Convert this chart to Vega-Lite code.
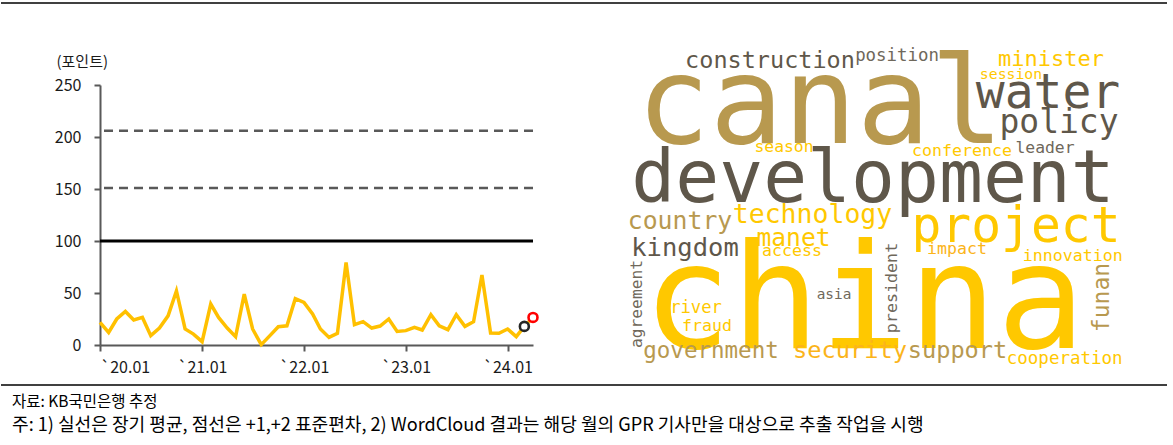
{
  "$schema": "https://vega.github.io/schema/vega-lite/v6.json",
  "background": "white",
  "padding": {"top": 2, "left": 0, "right": 0, "bottom": 0},
  "bounds": "flush",
  "spacing": 0,
  "config": {
    "view": {"stroke": null},
    "font": "Noto Sans CJK KR",
    "axis": {
      "domainColor": "#595959", "domainWidth": 2,
      "tickColor": "#595959", "tickWidth": 2, "tickSize": 6,
      "labelFont": "Noto Sans CJK KR", "labelFontSize": 16, "labelColor": "#1a1a1a",
      "grid": false
    },
    "axisY": {
      "labelPadding": 13,
      "titleAngle": 0, "titleAlign": "left", "titleBaseline": "middle",
      "titleX": -44, "titleY": -24,
      "titleFont": "Noto Sans CJK KR", "titleFontSize": 15, "titleFontWeight": "normal", "titleColor": "#1a1a1a"
    },
    "axisX": {"labelPadding": 8}
  },
  "vconcat": [
    {
      "width": 1166, "height": 81.3,
      "data": {"values": [{"edge": "top"}]},
      "mark": {"type": "rule", "color": "black", "strokeWidth": 1.5},
      "encoding": {"y": {"datum": 1, "type": "quantitative", "scale": {"domain": [0, 1]}, "axis": null}}
    },
    {
      "bounds": "flush",
      "spacing": 68,
      "hconcat": [
        {
          "width": 31, "height": 260,
          "data": {"values": [{"edge": "spacer"}]},
          "mark": {"type": "text", "text": " "},
          "encoding": {}
        },
        {
          "width": 433, "height": 260,
          "layer": [
            {
              "data": {"values": [{"value": 206, "kind": "+2 표준편차"}, {"value": 151, "kind": "+1 표준편차"}]},
              "mark": {"type": "rule", "color": "#595959", "strokeWidth": 2.5, "strokeDash": [9, 6]},
              "encoding": {"y": {"field": "value", "type": "quantitative", "scale": {"domain": [0, 250], "nice": false}, "axis": {"title": "(포인트)", "values": [0, 50, 100, 150, 200, 250]}}}
            },
            {
              "data": {"values": [{"value": 100, "kind": "장기 평균"}]},
              "mark": {"type": "rule", "color": "black", "strokeWidth": 3},
              "encoding": {"y": {"field": "value", "type": "quantitative", "scale": {"domain": [0, 250], "nice": false}, "axis": {"title": "(포인트)", "values": [0, 50, 100, 150, 200, 250]}}}
            },
            {
              "data": {"name": "gpr"},
              "layer": [
                {
                  "mark": {"type": "line", "color": "#FFC000", "strokeWidth": 3.5},
                  "encoding": {
                    "x": {"field": "date", "type": "temporal", "scale": {"type": "utc", "domain": [{"year": 2020, "month": 1, "date": 1, "utc": true}, {"year": 2024, "month": 4, "date": 1, "utc": true}]}, "axis": {"title": null, "values": [{"year": 2020, "month": 1, "date": 1, "utc": true}, {"year": 2021, "month": 1, "date": 1, "utc": true}, {"year": 2022, "month": 1, "date": 1, "utc": true}, {"year": 2023, "month": 1, "date": 1, "utc": true}, {"year": 2024, "month": 1, "date": 1, "utc": true}], "labelExpr": "'`' + utcFormat(datum.value, '%y.%m')"}},
                    "y": {"field": "value", "type": "quantitative", "scale": {"domain": [0, 250], "nice": false}, "axis": {"title": "(포인트)", "values": [0, 50, 100, 150, 200, 250]}}
                  }
                },
                {
                  "transform": [{"filter": "utcyear(datum.date) == 2024 && utcmonth(datum.date) == 2"}],
                  "mark": {"type": "circle", "fill": "white", "fillOpacity": 1, "stroke": "#262626", "strokeWidth": 2.6, "size": 80, "opacity": 1},
                  "encoding": {
                    "x": {"field": "date", "type": "temporal"},
                    "y": {"field": "value", "type": "quantitative"}
                  }
                },
                {
                  "transform": [{"filter": "utcyear(datum.date) == 2024 && utcmonth(datum.date) == 3"}],
                  "mark": {"type": "circle", "fill": "white", "fillOpacity": 1, "stroke": "#FF0000", "strokeWidth": 2.6, "size": 80, "opacity": 1},
                  "encoding": {
                    "x": {"field": "date", "type": "temporal"},
                    "y": {"field": "value", "type": "quantitative"}
                  }
                }
              ]
            }
          ]
        },
        {
          "width": 566, "height": 260,
          "data": {"name": "cloud"},
          "encoding": {
            "x": {"field": "x", "type": "quantitative", "scale": {"domain": [0, 566]}, "axis": null},
            "y": {"field": "y", "type": "quantitative", "scale": {"domain": [0, 260], "reverse": true}, "axis": null},
            "text": {"field": "word"},
            "size": {"field": "weight", "type": "quantitative", "scale": {"type": "linear", "domain": [0, 150], "range": [0, 150]}, "legend": null},
            "color": {"field": "tone", "type": "nominal", "scale": {"domain": ["tan", "dark", "grey", "gold", "amber"], "range": ["#B8994F", "#5F574A", "#6F685B", "#FFC800", "#FBB41A"]}, "legend": null}
          },
          "layer": [
            {
              "transform": [{"filter": "datum.orientation == 'horizontal'"}],
              "mark": {"type": "text", "font": "DejaVu Sans Mono", "align": "center", "baseline": "alphabetic"}
            },
            {
              "transform": [{"filter": "datum.orientation == 'vertical'"}],
              "mark": {"type": "text", "font": "DejaVu Sans Mono", "align": "center", "baseline": "alphabetic", "angle": 270}
            }
          ]
        }
      ]
    },
    {
      "width": 1166, "height": 0,
      "data": {"values": [{"edge": "separator"}]},
      "mark": {"type": "rule", "color": "black", "strokeWidth": 1.5},
      "encoding": {"y": {"datum": 0, "type": "quantitative", "scale": {"domain": [0, 1]}, "axis": null}},
      "title": {
        "text": "자료: KB국민은행 추정",
        "subtitle": "주: 1) 실선은 장기 평균, 점선은 +1,+2 표준편차, 2) WordCloud 결과는 해당 월의 GPR 기사만을 대상으로 추출 작업을 시행",
        "orient": "bottom", "anchor": "start", "frame": "group",
        "font": "Noto Sans CJK KR", "fontSize": 15.5, "fontWeight": "normal", "color": "black",
        "subtitleFont": "Noto Sans CJK KR", "subtitleFontSize": 18.1, "subtitleColor": "black",
        "subtitlePadding": 6.5, "offset": 9.5, "dx": 11
      }
    }
  ],
  "datasets": {
    "gpr": [
      {"date": "2020-01-01", "value": 21.7}, {"date": "2020-02-01", "value": 12.1}, {"date": "2020-03-01", "value": 25},
      {"date": "2020-04-01", "value": 32.3}, {"date": "2020-05-01", "value": 24}, {"date": "2020-06-01", "value": 26.5},
      {"date": "2020-07-01", "value": 9}, {"date": "2020-08-01", "value": 16.3}, {"date": "2020-09-01", "value": 28},
      {"date": "2020-10-01", "value": 52}, {"date": "2020-11-01", "value": 15.4}, {"date": "2020-12-01", "value": 10.5},
      {"date": "2021-01-01", "value": 3.2}, {"date": "2021-02-01", "value": 39.4}, {"date": "2021-03-01", "value": 26.5},
      {"date": "2021-04-01", "value": 16.3}, {"date": "2021-05-01", "value": 8}, {"date": "2021-06-01", "value": 49},
      {"date": "2021-07-01", "value": 15.4}, {"date": "2021-08-01", "value": 0.3}, {"date": "2021-09-01", "value": 9},
      {"date": "2021-10-01", "value": 17.6}, {"date": "2021-11-01", "value": 18.5}, {"date": "2021-12-01", "value": 44.5},
      {"date": "2022-01-01", "value": 41}, {"date": "2022-02-01", "value": 29.8}, {"date": "2022-03-01", "value": 15.4},
      {"date": "2022-04-01", "value": 7.3}, {"date": "2022-05-01", "value": 11.2}, {"date": "2022-06-01", "value": 79.4},
      {"date": "2022-07-01", "value": 19.5}, {"date": "2022-08-01", "value": 22.4}, {"date": "2022-09-01", "value": 16.3},
      {"date": "2022-10-01", "value": 18.2}, {"date": "2022-11-01", "value": 25}, {"date": "2022-12-01", "value": 13.1},
      {"date": "2023-01-01", "value": 13.8}, {"date": "2023-02-01", "value": 17}, {"date": "2023-03-01", "value": 14.4},
      {"date": "2023-04-01", "value": 29.1}, {"date": "2023-05-01", "value": 18.5}, {"date": "2023-06-01", "value": 14.7},
      {"date": "2023-07-01", "value": 29.1}, {"date": "2023-08-01", "value": 17.9}, {"date": "2023-09-01", "value": 22.4},
      {"date": "2023-10-01", "value": 67.3}, {"date": "2023-11-01", "value": 11.5}, {"date": "2023-12-01", "value": 11.2},
      {"date": "2024-01-01", "value": 15.4}, {"date": "2024-02-01", "value": 8}, {"date": "2024-03-01", "value": 17.9},
      {"date": "2024-04-01", "value": 26.5}
    ],
    "cloud": [
      {"word": "canal", "x": 219, "y": 58, "weight": 122, "tone": "tan", "orientation": "horizontal"},
      {"word": "development", "x": 272, "y": 117, "weight": 73, "tone": "dark", "orientation": "horizontal"},
      {"word": "china", "x": 263, "y": 263, "weight": 147, "tone": "gold", "orientation": "horizontal"},
      {"word": "construction", "x": 169, "y": -17, "weight": 23.5, "tone": "dark", "orientation": "horizontal"},
      {"word": "position", "x": 296, "y": -24, "weight": 17.4, "tone": "grey", "orientation": "horizontal"},
      {"word": "minister", "x": 450, "y": -19, "weight": 22, "tone": "gold", "orientation": "horizontal"},
      {"word": "session", "x": 410, "y": -6, "weight": 14.8, "tone": "gold", "orientation": "horizontal"},
      {"word": "water", "x": 447, "y": 23, "weight": 48, "tone": "dark", "orientation": "horizontal"},
      {"word": "policy", "x": 458, "y": 47.5, "weight": 33, "tone": "dark", "orientation": "horizontal"},
      {"word": "conference", "x": 361, "y": 71, "weight": 16.6, "tone": "gold", "orientation": "horizontal"},
      {"word": "leader", "x": 444, "y": 67.5, "weight": 16.4, "tone": "grey", "orientation": "horizontal"},
      {"word": "season", "x": 183, "y": 66.5, "weight": 16.4, "tone": "gold", "orientation": "horizontal"},
      {"word": "technology", "x": 211.5, "y": 138, "weight": 26.5, "tone": "gold", "orientation": "horizontal"},
      {"word": "country", "x": 79, "y": 144, "weight": 24.8, "tone": "tan", "orientation": "horizontal"},
      {"word": "project", "x": 415, "y": 157, "weight": 49.6, "tone": "gold", "orientation": "horizontal"},
      {"word": "manet", "x": 192.5, "y": 161, "weight": 24.6, "tone": "gold", "orientation": "horizontal"},
      {"word": "kingdom", "x": 84, "y": 171, "weight": 25.5, "tone": "dark", "orientation": "horizontal"},
      {"word": "access", "x": 191, "y": 171, "weight": 16.6, "tone": "gold", "orientation": "horizontal"},
      {"word": "impact", "x": 356, "y": 169, "weight": 16.6, "tone": "amber", "orientation": "horizontal"},
      {"word": "innovation", "x": 471.7, "y": 176, "weight": 16.6, "tone": "gold", "orientation": "horizontal"},
      {"word": "asia", "x": 233, "y": 214, "weight": 14.4, "tone": "grey", "orientation": "horizontal"},
      {"word": "river", "x": 95, "y": 227.7, "weight": 17.2, "tone": "gold", "orientation": "horizontal"},
      {"word": "fraud", "x": 106, "y": 246, "weight": 16.6, "tone": "gold", "orientation": "horizontal"},
      {"word": "government", "x": 110, "y": 273, "weight": 22.5, "tone": "tan", "orientation": "horizontal"},
      {"word": "security", "x": 249, "y": 273, "weight": 23.7, "tone": "amber", "orientation": "horizontal"},
      {"word": "support", "x": 356.5, "y": 273, "weight": 23.6, "tone": "tan", "orientation": "horizontal"},
      {"word": "cooperation", "x": 463.7, "y": 279, "weight": 17.5, "tone": "gold", "orientation": "horizontal"},
      {"word": "agreement", "x": 41, "y": 219, "weight": 16.3, "tone": "grey", "orientation": "vertical"},
      {"word": "president", "x": 296, "y": 203, "weight": 16.7, "tone": "grey", "orientation": "vertical"},
      {"word": "funan", "x": 508, "y": 212.5, "weight": 23, "tone": "tan", "orientation": "vertical"}
    ]
  }
}
